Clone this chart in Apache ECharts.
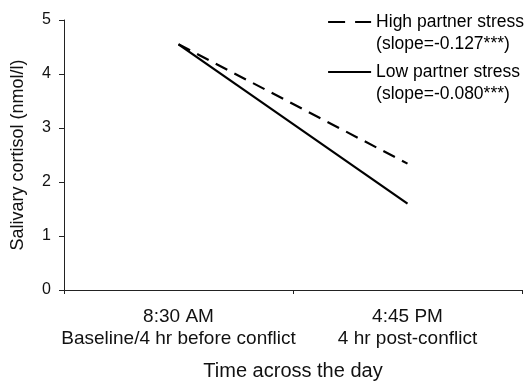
<!DOCTYPE html>
<html><head><meta charset="utf-8">
<script src="https://cdn.jsdelivr.net/npm/echarts@6/dist/echarts.min.js"></script>
<style>html,body{margin:0;padding:0;background:#fff}#c{width:526px;height:382px}</style>
</head><body><div id="c"></div>
<script>
var categories = ['8:30 AM\nBaseline/4 hr before conflict', '4:45 PM\n4 hr post-conflict'];
var highStress = [4.55, 2.34];
var lowStress = [4.55, 1.60];
var seriesNames = ['High partner stress', 'Low partner stress'];
var slopeLabels = ['(slope=-0.127***)', '(slope=-0.080***)'];
var yTicks = [0, 1, 2, 3, 4, 5];

var font = 'Liberation Sans, Arial, sans-serif';
var chart = echarts.init(document.getElementById('c'), null, {renderer: 'canvas'});
chart.setOption({
  animation: false,
  backgroundColor: '#fff',
  grid: {left: 64, right: 4, top: 20, bottom: 92, containLabel: false, outerBoundsMode: 'none'},
  legend: {
    orient: 'vertical', left: 327, top: -11, padding: 0, itemWidth: 43, itemHeight: 14, itemGap: -16,
    data: [
      {name: seriesNames[0], lineStyle: {type: [17, 10], width: 2.2}},
      {name: seriesNames[1], lineStyle: {type: 'solid', width: 2.2}}
    ],
    itemStyle: {opacity: 0},
    formatter: function (n) { var i = seriesNames.indexOf(n); return ' \n' + n + '\n' + slopeLabels[i]; },
    textStyle: {fontFamily: font, fontSize: 17.5, color: '#000', lineHeight: 22}
  },
  xAxis: {
    type: 'category', data: categories, boundaryGap: true,
    name: 'Time across the day', nameLocation: 'middle', nameGap: 71,
    nameTextStyle: {fontFamily: font, fontSize: 20, color: '#111'},
    axisLine: {lineStyle: {color: '#222', width: 1}},
    axisTick: {show: true, length: 4, lineStyle: {color: '#222'}},
    axisLabel: {interval: 0, fontFamily: font, fontSize: 19, color: '#111', lineHeight: 22, margin: 16}
  },
  yAxis: {
    type: 'value', min: yTicks[0], max: yTicks[yTicks.length - 1], interval: 1,
    name: 'Salivary cortisol (nmol/l)', nameLocation: 'middle', nameGap: 37,
    nameTextStyle: {fontFamily: font, fontSize: 18, color: '#111'},
    splitLine: {show: false},
    axisLine: {show: true, lineStyle: {color: '#222', width: 1}},
    axisTick: {show: true, length: 5, lineStyle: {color: '#222'}},
    axisLabel: {fontFamily: font, fontSize: 16, color: '#111', margin: 13}
  },
  series: [
    {name: seriesNames[0], type: 'line', data: highStress, symbol: 'none',
     lineStyle: {color: '#000', width: 2.2, type: [13, 8]}, itemStyle: {color: '#000'}},
    {name: seriesNames[1], type: 'line', data: lowStress, symbol: 'none',
     lineStyle: {color: '#000', width: 2.2, type: 'solid'}, itemStyle: {color: '#000'}}
  ]
});
</script></body></html>
